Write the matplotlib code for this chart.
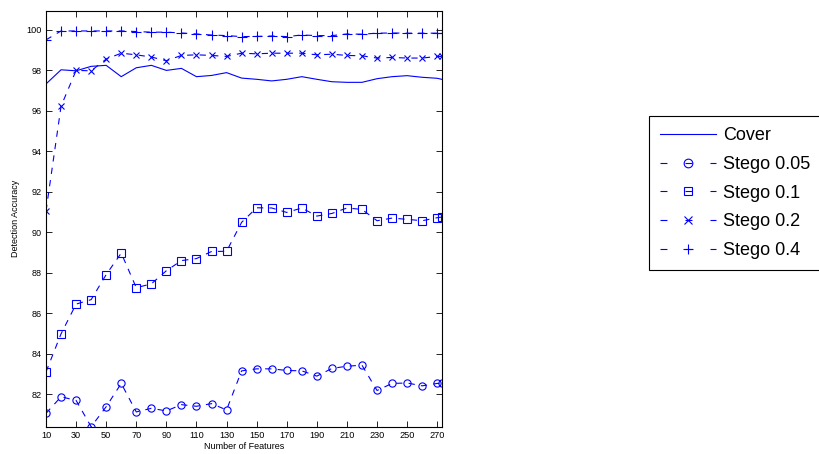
import matplotlib
matplotlib.use('Agg')
import matplotlib.pyplot as plt
from matplotlib.lines import Line2D

plt.rcParams['font.family'] = ['Liberation Sans', 'DejaVu Sans']
plt.rcParams['lines.scale_dashes'] = False

# feature counts
n_features = [10, 20, 30, 40, 50, 60, 70, 80, 90, 100, 110, 120, 130, 140,
              150, 160, 170, 180, 190, 200, 210, 220, 230, 240, 250, 260, 270, 273]

# detection accuracy (%)
cover = [97.33, 98.03, 97.98, 98.20, 98.25, 97.69, 98.13, 98.25, 98.00, 98.10,
         97.69, 97.75, 97.89, 97.62, 97.56, 97.48, 97.56, 97.69, 97.56, 97.44,
         97.41, 97.41, 97.59, 97.69, 97.74, 97.66, 97.61, 97.56]
stego_005 = [81.05, 81.87, 81.69, 80.39, 81.38, 82.53, 81.12, 81.30, 81.17, 81.48,
             81.40, 81.53, 81.22, 83.15, 83.25, 83.25, 83.17, 83.15, 82.89, 83.27,
             83.38, 83.43, 82.18, 82.53, 82.55, 82.41, 82.53, 82.53]
stego_01 = [83.10, 84.98, 86.45, 86.67, 87.91, 88.97, 87.26, 87.45, 88.10, 88.60,
            88.70, 89.05, 89.06, 90.49, 91.21, 91.20, 90.98, 91.20, 90.80, 90.93,
            91.20, 91.13, 90.57, 90.70, 90.64, 90.57, 90.72, 90.75]
stego_02 = [91.05, 96.23, 98.00, 97.98, 98.56, 98.85, 98.77, 98.66, 98.48, 98.74,
            98.77, 98.74, 98.69, 98.85, 98.82, 98.85, 98.85, 98.85, 98.77, 98.80,
            98.74, 98.72, 98.61, 98.64, 98.61, 98.61, 98.69, 98.69]
stego_04 = [99.51, 99.95, 99.95, 99.95, 99.95, 99.95, 99.92, 99.89, 99.89, 99.85,
            99.80, 99.75, 99.72, 99.67, 99.68, 99.70, 99.67, 99.75, 99.72, 99.72,
            99.80, 99.79, 99.84, 99.85, 99.84, 99.84, 99.84, 99.84]

labels = ['Cover', 'Stego 0.05', 'Stego 0.1', 'Stego 0.2', 'Stego 0.4']

xticks = list(range(10, 271, 20))
yticks = list(range(82, 101, 2))

blue = '#0000ff'
lw = 0.8
# (marker, size) per series
styles = [(None, 0), ('o', 5.2), ('s', 5.2), ('x', 4.5), ('+', 6.5)]
series = [cover, stego_005, stego_01, stego_02, stego_04]

fig = plt.figure(figsize=(8.2, 4.54), dpi=100)
ax = fig.add_axes([0.0561, 0.0601, 0.4826, 0.9163])

handles = []
for y, (m, ms), lab in zip(series, styles, labels):
    if m is None:
        ax.plot(n_features, y, '-', color=blue, lw=lw)
        handles.append(Line2D([], [], color=blue, lw=lw))
    else:
        ax.plot(n_features, y, color=blue, lw=lw, dashes=(4.5, 4.5),
                marker=m, ms=ms, mfc='none', mew=lw)
        # legend key: short dash at each end, marker in the middle
        handles.append(Line2D([], [], color=blue, lw=lw, dashes=(5.0, 13.0),
                              marker=m, ms=ms * 1.2, mfc='none', mew=lw))

ax.set_xlim(10, 273)
ax.set_ylim(80.39, 100.95)
ax.set_xticks(xticks)
ax.set_yticks(yticks)
ax.tick_params(direction='in', top=True, right=True, labelsize=6.6, length=4,
               width=0.6, pad=3)
for s in ax.spines.values():
    s.set_linewidth(0.8)

ax.set_xlabel('Number of Features', fontsize=6.5, labelpad=1.5)
ax.set_ylabel('Detection Accuracy', fontsize=6.5, labelpad=5)

leg = ax.legend(handles, labels, loc='upper left', bbox_to_anchor=(0.7915, 0.7445),
                bbox_transform=fig.transFigure, borderaxespad=0,
                fontsize=13, handlelength=3.1, fancybox=False,
                edgecolor='black', framealpha=1, labelspacing=0.65,
                borderpad=0.62, handletextpad=0.4)
leg.get_frame().set_linewidth(0.8)

fig.savefig('out.png', dpi=100)
